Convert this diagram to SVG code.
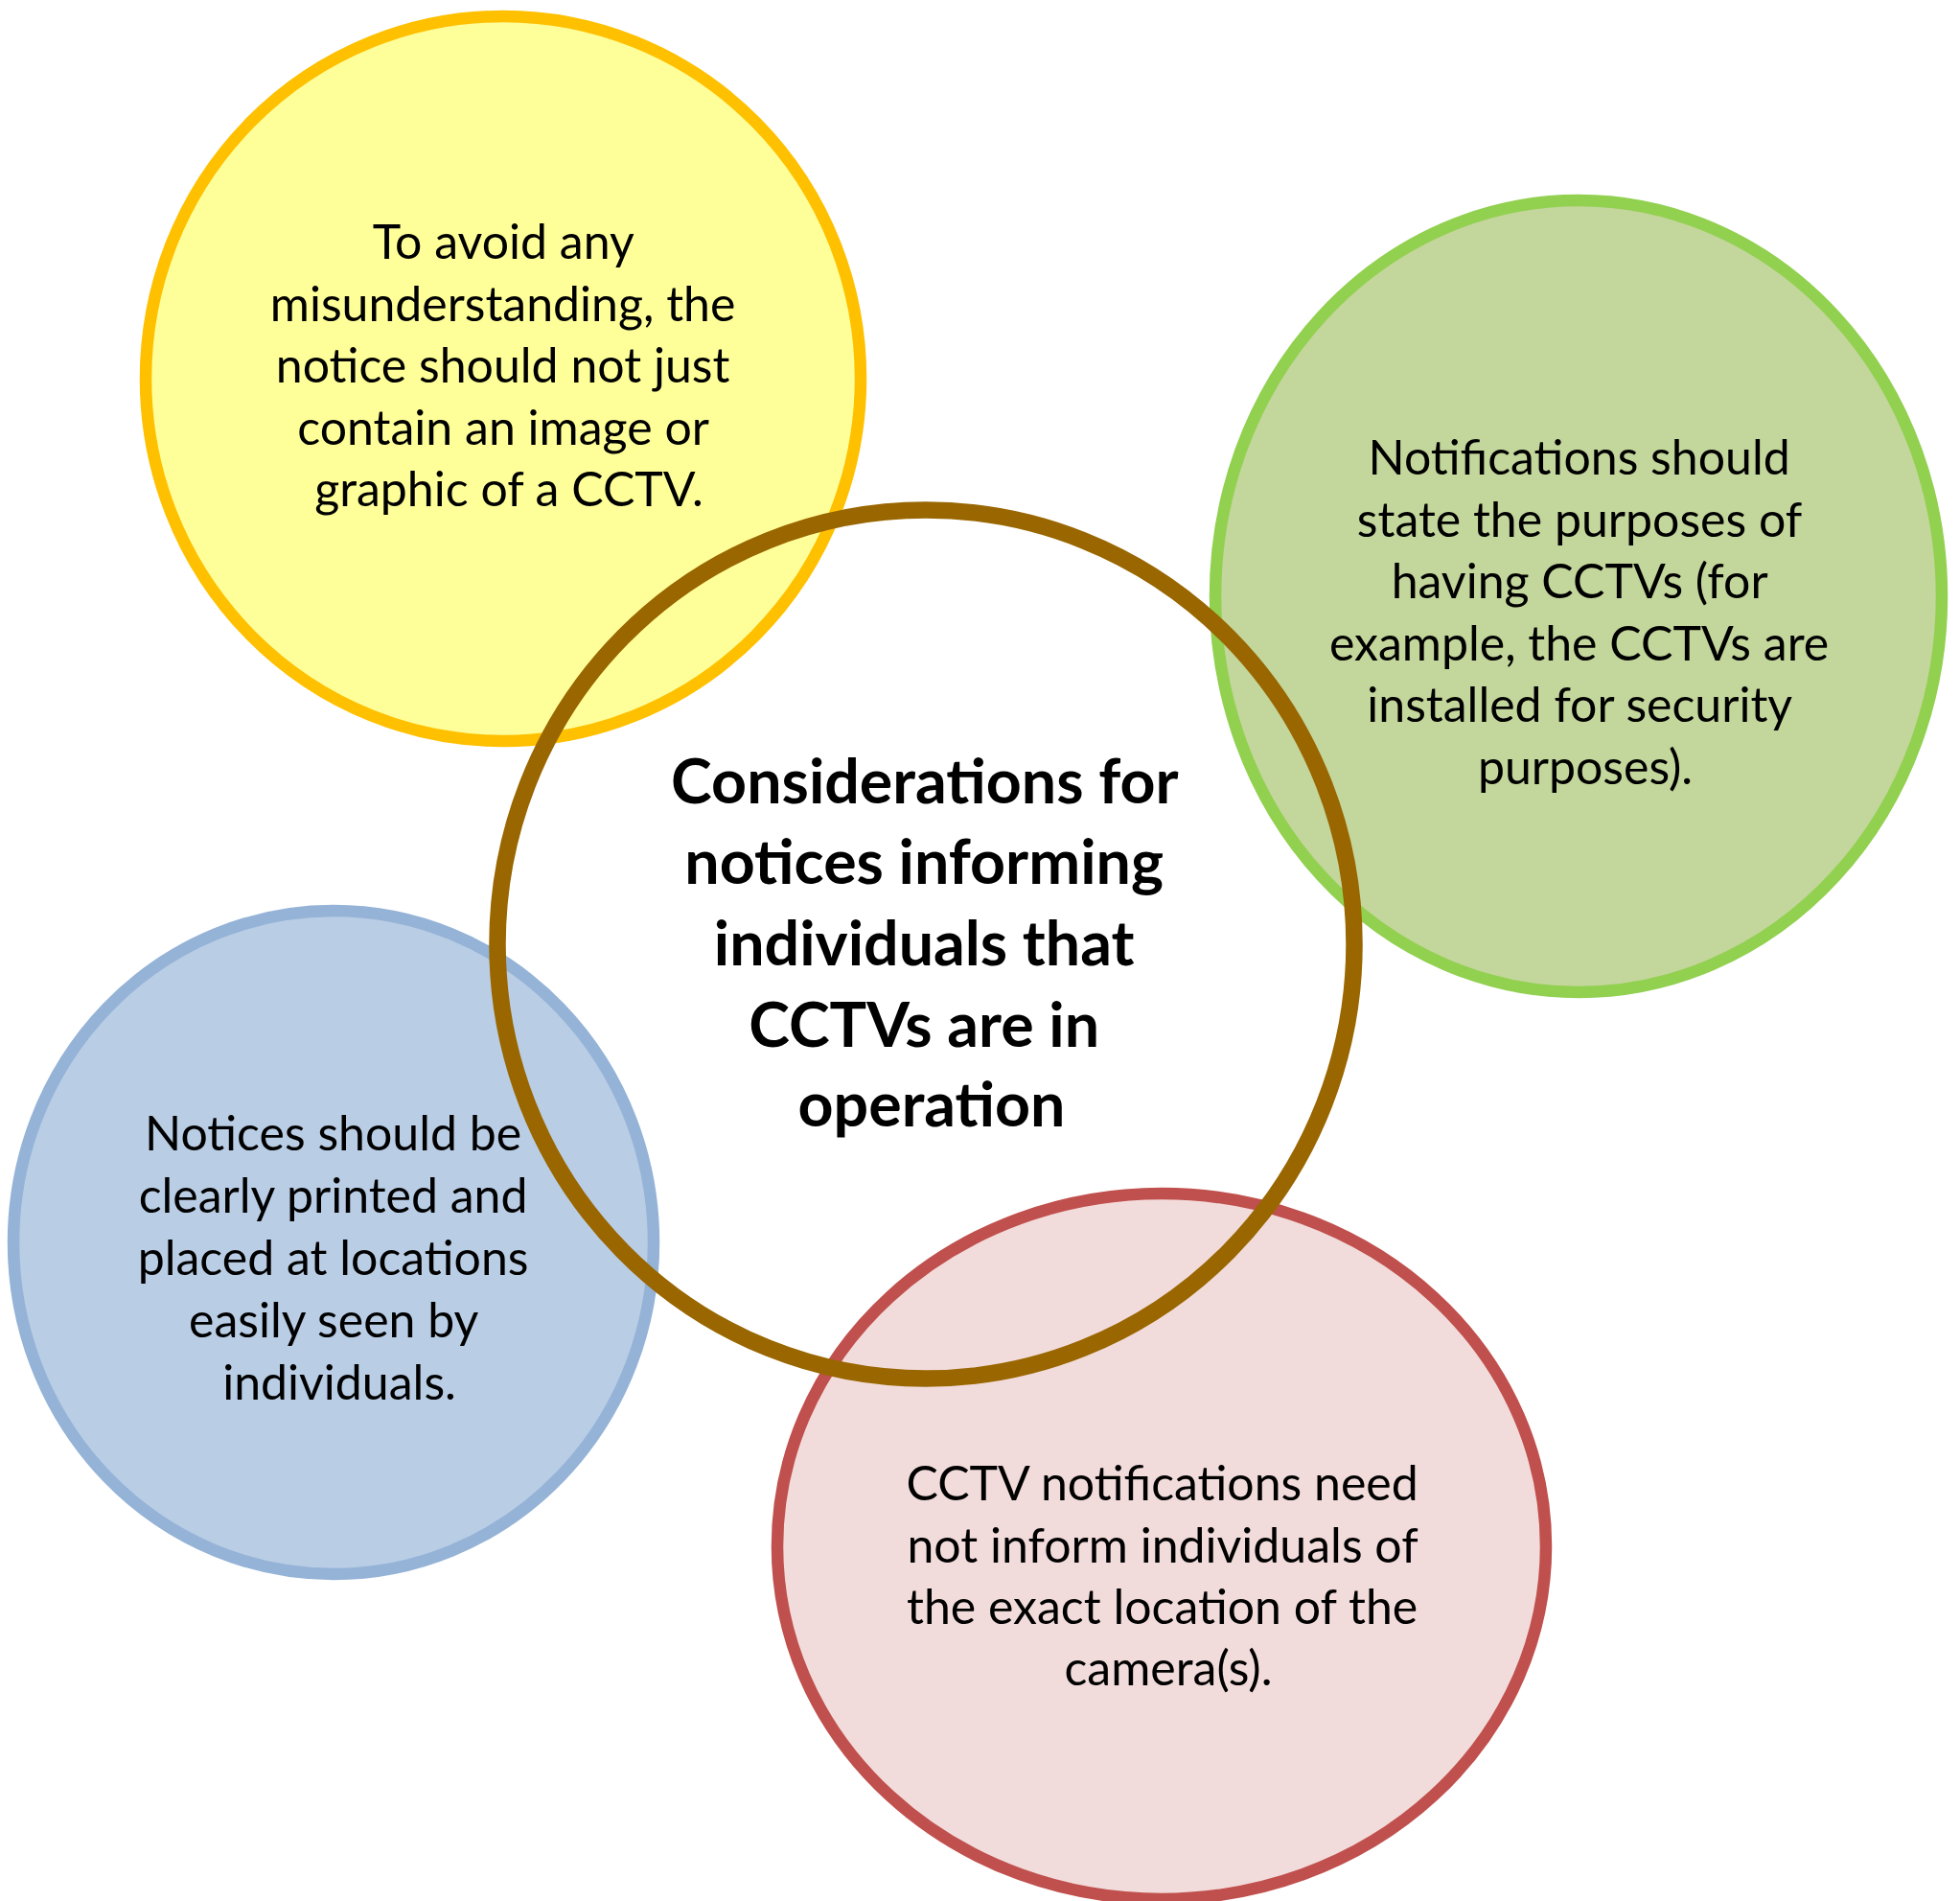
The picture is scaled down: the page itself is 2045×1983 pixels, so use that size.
<svg xmlns="http://www.w3.org/2000/svg" width="2045" height="1983" viewBox="0 0 2045 1983">
  <style>
    .ring { stroke-width: 12.5; }
    .core { fill: none; stroke: #996600; stroke-width: 17.5; }
    .body { font-family: Lato, "Liberation Sans", sans-serif; font-size: 50px; fill: #000; text-anchor: middle; }
    .title { font-family: Lato, "Liberation Sans", sans-serif; font-size: 64.5px; font-weight: bold; fill: #000; text-anchor: middle; }
  </style>
  <rect width="2045" height="1983" fill="#ffffff"/>

  <g id="node-image">
    <ellipse class="ring" cx="525" cy="395" rx="373" ry="378" fill="#FFFF99" stroke="#FFC000"/>
    <text class="body">
      <tspan x="531" y="270">To avoid any</tspan>
      <tspan x="531" y="334.5">misunderstanding, the</tspan>
      <tspan x="531" y="399">notice should not just</tspan>
      <tspan x="531" y="463.5">contain an image or</tspan>
      <tspan x="531" y="528">graphic of a CCTV.</tspan>
    </text>
  </g>

  <g id="node-purpose">
    <ellipse class="ring" cx="1647" cy="622" rx="379" ry="413" fill="#C3D69B" stroke="#92D050"/>
    <text class="body">
      <tspan x="1654" y="495">Notifications should</tspan>
      <tspan x="1654" y="559.5">state the purposes of</tspan>
      <tspan x="1654" y="624">having CCTVs (for</tspan>
      <tspan x="1654" y="688.5">example, the CCTVs are</tspan>
      <tspan x="1654" y="753">installed for security</tspan>
      <tspan x="1654" y="817.5">purposes).</tspan>
    </text>
  </g>

  <g id="node-placement">
    <ellipse class="ring" cx="348" cy="1296" rx="334" ry="346" fill="#B9CDE5" stroke="#95B3D7"/>
    <text class="body">
      <tspan x="354" y="1200">Notices should be</tspan>
      <tspan x="354" y="1265">clearly printed and</tspan>
      <tspan x="354" y="1330">placed at locations</tspan>
      <tspan x="354" y="1395">easily seen by</tspan>
      <tspan x="354" y="1460">individuals.</tspan>
    </text>
  </g>

  <g id="node-location">
    <ellipse class="ring" cx="1212" cy="1613" rx="401" ry="368" fill="#F2DCDB" stroke="#C0504D"/>
    <text class="body">
      <tspan x="1219" y="1565">CCTV notifications need</tspan>
      <tspan x="1219" y="1629.5">not inform individuals of</tspan>
      <tspan x="1219" y="1694">the exact location of the</tspan>
      <tspan x="1219" y="1758">camera(s).</tspan>
    </text>
  </g>

  <g id="node-centre">
    <ellipse class="core" cx="966" cy="985" rx="447" ry="453"/>
    <text class="title">
      <tspan x="972" y="838">Considerations for</tspan>
      <tspan x="972" y="922">notices informing</tspan>
      <tspan x="972" y="1007">individuals that</tspan>
      <tspan x="972" y="1092">CCTVs are in</tspan>
      <tspan x="972" y="1175">operation</tspan>
    </text>
  </g>

  <g id="connectors"></g>
</svg>
